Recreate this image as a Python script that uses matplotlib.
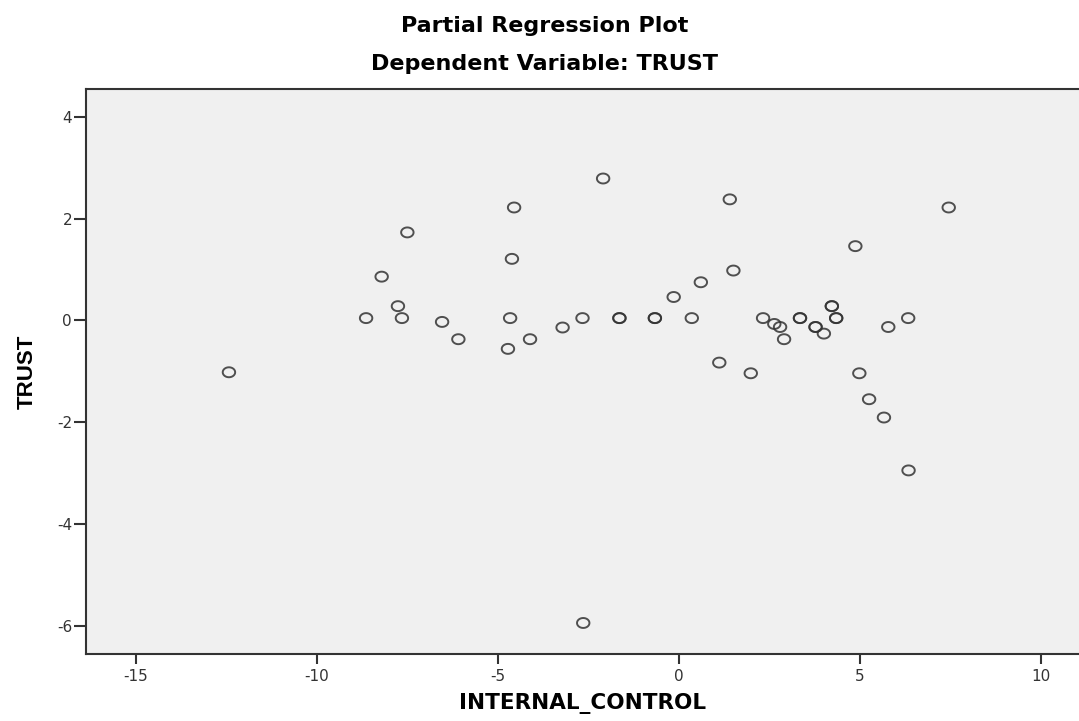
"""Partial regression plot (SPSS style): TRUST vs INTERNAL_CONTROL."""

import matplotlib
matplotlib.use('Agg')
import matplotlib.pyplot as plt
import numpy as np
from matplotlib.path import Path

# Residual values (duplicates listed twice).
internal_control = [
    -12.43, -8.64, -8.21, -7.50, -7.76, -7.65, -6.54, -6.09,
    -4.55, -4.61, -4.66, -4.72, -4.11, -3.21, -2.66, -2.09, -2.64,
    -1.64, -1.64, -0.66, -0.66, -0.14, 0.36, 0.61, 1.12, 1.41, 1.51,
    1.99, 2.33, 2.64, 2.80, 2.91, 3.35, 3.35, 3.78, 3.78, 4.01,
    4.23, 4.23, 4.35, 4.35, 4.88, 4.99, 5.26, 5.67, 5.79, 6.34, 6.35, 7.46,
]
trust = [
    -1.02, 0.045, 0.86, 1.73, 0.28, 0.045, -0.03, -0.37,
    2.22, 1.21, 0.045, -0.56, -0.37, -0.14, 0.045, 2.79, -5.95,
    0.045, 0.045, 0.045, 0.045, 0.46, 0.045, 0.75, -0.83, 2.38, 0.98,
    -1.04, 0.045, -0.07, -0.13, -0.37, 0.045, 0.045, -0.13, -0.13, -0.26,
    0.28, 0.28, 0.045, 0.045, 1.46, -1.04, -1.55, -1.91, -0.13, 0.045, -2.95, 2.22,
]

x_ticks = [-15, -10, -5, 0, 5, 10]
y_ticks = [4, 2, 0, -2, -4, -6]

BG_COLOR = '#f0f0f0'
INK = '#333333'

plt.rcParams['font.family'] = ['DejaVu Sans']
plt.rcParams['axes.unicode_minus'] = False

# SPSS draws slightly flattened circles
theta = np.linspace(0, 2 * np.pi, 60)
ellipse = Path(np.column_stack([np.cos(theta), 0.8 * np.sin(theta)]), closed=True)

fig = plt.figure(figsize=(10.79, 7.21), dpi=100)
ax = fig.add_axes([86 / 1079, 67 / 721, (1079 - 86) / 1079, (654 - 89) / 721])
ax.set_facecolor(BG_COLOR)

ax.scatter(internal_control, trust, marker=ellipse, s=80, facecolors='none',
           edgecolors=INK, linewidths=1.4, alpha=0.85, zorder=3)

ax.set_xlim(-16.38, 11.06)
ax.set_ylim(-6.56, 4.55)
ax.set_xticks(x_ticks)
ax.set_yticks(y_ticks)

for side in ('left', 'bottom', 'top'):
    ax.spines[side].set_color(INK)
    ax.spines[side].set_linewidth(1.5)
ax.spines['right'].set_visible(False)
ax.tick_params(direction='out', width=1.5, color=INK,
               labelsize=11, labelcolor='#333333')
ax.tick_params(axis='x', length=7.5, pad=3)
ax.tick_params(axis='y', length=9, pad=1)

ax.set_xlabel('INTERNAL_CONTROL', fontsize=15.5, fontweight='bold', labelpad=7)
ax.set_ylabel('TRUST', fontsize=16, fontweight='bold', labelpad=14,
              family='Liberation Sans')

fig.text(0.505, 1 - 26 / 721, 'Partial Regression Plot', ha='center', va='center',
         fontsize=16, fontweight='bold')
fig.text(0.505, 1 - 64 / 721, 'Dependent Variable: TRUST', ha='center', va='center',
         fontsize=16, fontweight='bold')

fig.savefig('out.png', dpi=100)
